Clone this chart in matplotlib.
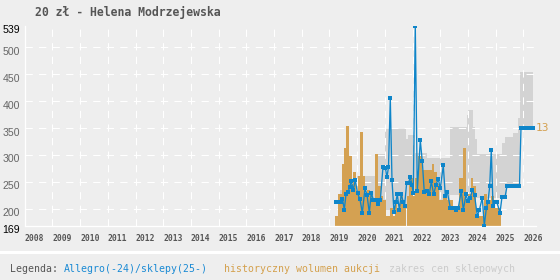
import numpy as np
import matplotlib
matplotlib.use('Agg')
import matplotlib.pyplot as plt
from matplotlib.transforms import ScaledTranslation

# --- dane ---
YEARS = list(range(2008, 2027))
Y_TICKS = [169, 200, 250, 300, 350, 400, 450, 500, 539]

# Allegro / sklepy: cena (zł) w czasie (rok dziesiętny)
allegro_x = [2019.235, 2019.325, 2019.415, 2019.469, 2019.534, 2019.596, 2019.668, 2019.729, 2019.787, 2019.859,
             2019.931, 2020.011, 2020.101, 2020.184, 2020.282, 2020.354, 2020.437, 2020.509, 2020.588, 2020.679,
             2020.762, 2020.834, 2020.931, 2021.014, 2021.076, 2021.130, 2021.195, 2021.256, 2021.329, 2021.390,
             2021.448, 2021.520, 2021.592, 2021.664, 2021.708, 2021.787, 2021.859, 2021.917, 2021.978, 2022.025,
             2022.097, 2022.170, 2022.278, 2022.350, 2022.422, 2022.502, 2022.603, 2022.675, 2022.762, 2022.845,
             2022.928, 2023.000, 2023.108, 2023.181, 2023.253, 2023.361, 2023.440, 2023.513, 2023.578, 2023.650,
             2023.758, 2023.830, 2023.928, 2024.000, 2024.083, 2024.162, 2024.235, 2024.336, 2024.415, 2024.516,
             2024.588, 2024.661, 2024.722, 2024.783, 2024.841, 2024.903, 2024.964, 2025.047, 2025.155, 2025.227,
             2025.336, 2025.408, 2025.480, 2025.552, 2025.625, 2025.697, 2025.769, 2025.859, 2025.913, 2025.986,
             2026.058, 2026.130, 2026.202, 2026.274, 2026.347]
allegro_y = [212, 212, 212, 218, 199, 227, 232, 240, 252, 235,
             254, 229, 218, 193, 238, 226, 193, 230, 216, 216,
             209, 216, 278, 276, 259, 278, 405, 253, 194, 212,
             227, 199, 227, 213, 205, 249, 249, 260, 244, 229,
             539, 234, 327, 288, 231, 233, 227, 251, 227, 245,
             255, 238, 281, 224, 232, 202, 202, 202, 199, 202,
             234, 198, 227, 214, 221, 236, 226, 187, 199, 221,
             169, 201, 213, 242, 310, 205, 212, 212, 193, 222,
             222, 242, 242, 242, 242, 242, 242, 242, 350, 350,
             350, 350, 350, 350, 350]

# historyczny wolumen aukcji (przedziały czasu + liczba)
vol_edges = [2019.199, 2019.318, 2019.440, 2019.523, 2019.596, 2019.704, 2019.801, 2019.859, 2019.957, 2020.018,
             2020.101, 2020.199, 2020.282, 2020.365, 2020.462, 2020.560, 2020.643, 2020.762, 2020.848, 2020.942,
             2021.040, 2021.184, 2021.282, 2021.365, 2021.448, 2021.545, 2021.643, 2021.762, 2021.809, 2021.881,
             2022.025, 2022.087, 2022.206, 2022.329, 2022.690, 2022.773, 2022.892, 2022.964, 2023.108, 2023.231,
             2023.469, 2023.686, 2023.830, 2023.928, 2024.011, 2024.097, 2024.191, 2024.289, 2024.408, 2024.578,
             2024.697, 2024.819, 2024.939, 2025.036, 2025.180]
vol_count = [5, 16, 31, 39, 50, 35, 21, 27, 16, 25,
             47, 25, 16, 18, 16, 14, 36, 20, 15, 13,
             5, 9, 5, 12, 9, 15, 9, 0, 15, 24,
             15, 24, 35, 28, 31, 27, 21, 13, 16, 13,
             9, 24, 39, 13, 16, 24, 20, 5, 5, 16,
             13, 15, 9, 9]
VOL_MAX = 100  # wolumen 0..100 na pełną wysokość wykresu

# zakres cen sklepowych (schodki)
shop_edges = [2019.379, 2019.993, 2020.751, 2021.004, 2021.762, 2021.834, 2022.087, 2022.520, 2023.350, 2023.964,
              2024.000, 2024.181, 2024.253, 2024.325, 2025.227, 2025.336, 2025.408, 2025.625, 2025.805, 2025.877,
              2026.347]
shop_lo = [212, 205, 205, 198, 198, 205, 210, 215, 226, 226,
           222, 220, 220, 220, 218, 218, 241, 241, 241, 350]
shop_hi = [235, 262, 302, 349, 330, 337, 304, 294, 352, 374,
           383, 352, 330, 302, 322, 333, 333, 340, 368, 453]

BG = '#eeeeee'
BLUE = '#0e85c9'
ORANGE = '#d4a152'
GRAY = '#d3d3d3'

fig = plt.figure(figsize=(5.6, 2.8), dpi=100, facecolor=BG)
ax = fig.add_axes([24.8 / 560, 54.3 / 280, 511.2 / 560, 199.7 / 280], facecolor=BG)
ymin, ymax = Y_TICKS[0], Y_TICKS[-1]

# pasmo sklepów
ax.fill_between(shop_edges, shop_lo + [shop_lo[-1]], shop_hi + [shop_hi[-1]],
                step='post', color=GRAY, lw=0, zorder=1)

# siatka
for yv in Y_TICKS[1:-1]:
    ax.axhline(yv, color='white', lw=0.75, ls=(0, (7, 6)), zorder=2)
for yr in YEARS[1:]:
    ax.axvline(yr, color='white', lw=0.75, ls=(0, (7, 6)), zorder=2)

# wolumen aukcji (przeskalowany na oś cen)
scale = (ymax - ymin) / VOL_MAX
ax.stairs(ymin + np.array(vol_count) * scale, vol_edges, baseline=ymin,
          fill=True, color=ORANGE, lw=0, zorder=3)

# ceny Allegro
ax.plot(allegro_x, allegro_y, color=BLUE, lw=0.95, marker='s', ms=2.3, mew=0,
        mfc=BLUE, zorder=4)
ax.text(allegro_x[-1] + 0.1, allegro_y[-1], '13', color=ORANGE, fontsize=8,
        family='DejaVu Sans Mono', ha='left', va='center', zorder=5)

ax.set_xlim(2008, 2026.455)
ax.set_ylim(ymin, ymax)

for side in ('top', 'right'):
    ax.spines[side].set_visible(False)
for side in ('left', 'bottom'):
    ax.spines[side].set_color('white')
    ax.spines[side].set_linewidth(0.9)
    ax.spines[side].set_zorder(3.5)

ax.set_xticks(YEARS, [str(y) for y in YEARS])
ax.set_yticks(Y_TICKS, [str(v) for v in Y_TICKS])
ax.tick_params(axis='both', length=0)
ax.tick_params(axis='x', pad=6)
ax.tick_params(axis='y', pad=3.5)
for lab in ax.get_xticklabels():
    lab.set_ha('left')
    lab.set_family('DejaVu Sans Mono')
    lab.set_weight('bold')
    lab.set_fontsize(5.8)
    lab.set_color('#555555')
off = ScaledTranslation(0, -3.5 / 100, fig.dpi_scale_trans)
for t in ax.yaxis.get_major_ticks():
    lab = t.label1
    lab.set_family('Liberation Sans')
    lab.set_fontsize(7.6)
    lab.set_transform(lab.get_transform() + off)
    lab.set_color('black' if lab.get_text() in ('169', '539') else '#666666')

# tytuł
fig.text(35 / 560, 1 - 12.7 / 280, '20 zł - Helena Modrzejewska', family='DejaVu Sans Mono',
         weight='bold', fontsize=8.3, color='#555555', ha='left', va='center')

# pasek legendy
fig.add_artist(plt.Rectangle((0, 26 / 280), 1, 3 / 280, transform=fig.transFigure,
                             color='white', lw=0))
ly = 11 / 280
legend_parts = [(10, 'Legenda:', '#555555'),
                (64, 'Allegro(-24)/sklepy(25-)', '#1a8ad4'),
                (224, 'historyczny wolumen aukcji', '#d4a04c'),
                (389, 'zakres cen sklepowych', '#cccccc')]
for px, txt, col in legend_parts:
    fig.text(px / 560, ly, txt, family='DejaVu Sans Mono', fontsize=7.1,
             color=col, ha='left', va='center')

fig.savefig('out.png', dpi=100, facecolor=BG)
